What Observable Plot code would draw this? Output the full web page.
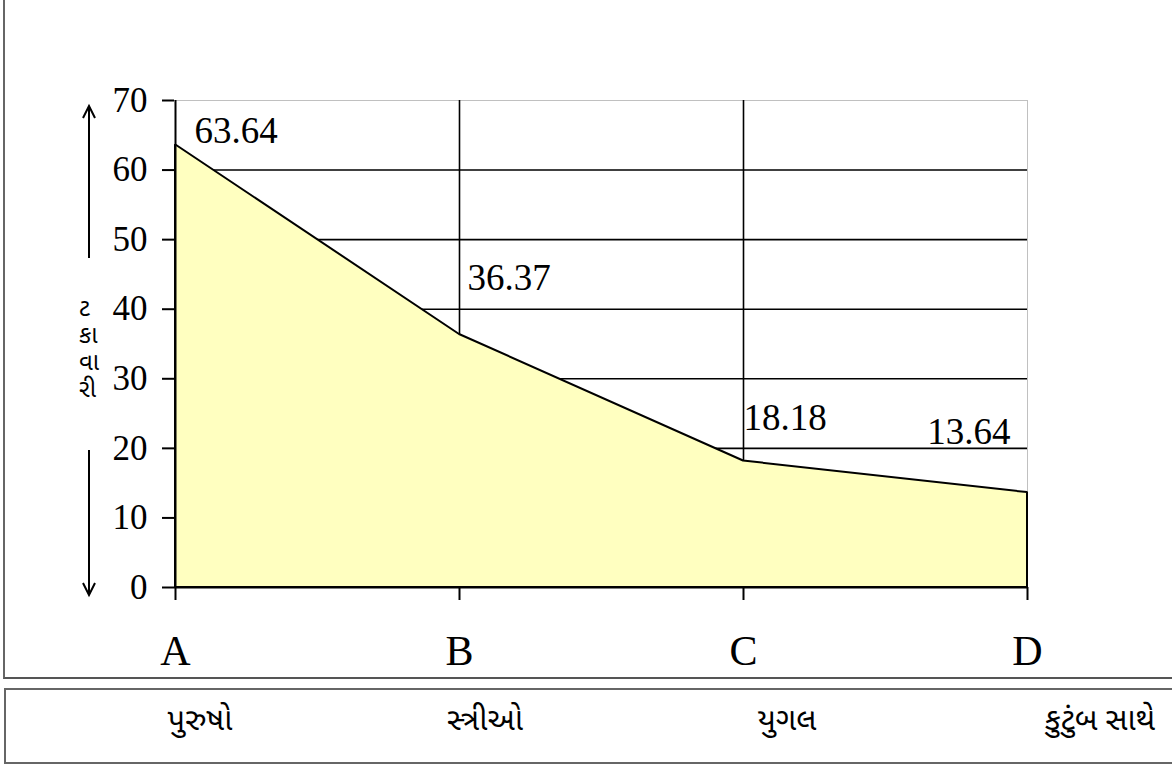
<!DOCTYPE html>
<html>
<head>
<meta charset="utf-8">
<script src="https://cdn.jsdelivr.net/npm/d3@7"></script>
<script src="https://cdn.jsdelivr.net/npm/@observablehq/plot@0.6"></script>
<style>
  html, body { margin: 0; padding: 0; background: #fff; }
  body { width: 1172px; height: 765px; position: relative; overflow: hidden; font-family: "Liberation Serif", serif; }
  #frame { position: absolute; left: 3px; top: -2px; width: 1180px; height: 679px; border-left: 2px solid #666; border-bottom: 2px solid #555; }
  #chart { position: absolute; left: 0; top: 0; }
  #chart svg text { font-family: "Liberation Serif", "Times New Roman", serif !important; font-variant: normal !important; }
  #ytitle { position: absolute; left: 79px; top: 297px; font-family: "Noto Sans Gujarati", "Lohit Gujarati", sans-serif; font-size: 24px; line-height: 27px; color: #000; white-space: pre; text-align: left; }
  #catbox { position: absolute; left: 4px; top: 688px; width: 1180px; height: 72px; border: 2px solid #666; }
  .cat { position: absolute; transform: translate(-50%, -50%); font-family: "Noto Sans Gujarati", "Lohit Gujarati", sans-serif; font-size: 31px; color: #000; white-space: nowrap; }
</style>
</head>
<body>
<div id="frame"></div>
<div id="chart"></div>
<div id="catbox"></div>
<script>
// ---- data ----
const categories = ["A", "B", "C", "D"];
const values = [63.64, 36.37, 18.18, 13.64];
const valueLabels = ["63.64", "36.37", "18.18", "13.64"];
const categoryNames = ["પુરુષો", "સ્ત્રીઓ", "યુગલ", "કુટુંબ સાથે"];
const yTicks = [0, 10, 20, 30, 40, 50, 60, 70];
const yAxisLetters = ["ટ", "કા", "વા", "રી"];

// ---- style / layout ----
const labelOffsets = [ {dx: 19, dy: -14, anchor: "start"}, {dx: 8, dy: -56, anchor: "start"}, {dx: 0, dy: -43, anchor: "start"}, {dx: -17, dy: -60, anchor: "end"} ];
const catCenters = [200, 485, 787, 1100];

const data = categories.map((c, i) => ({cat: c, value: values[i], label: valueLabels[i]}));

const plot = Plot.plot({
  width: 1172,
  height: 680,
  marginLeft: 174,
  marginRight: 145,
  marginTop: 100,
  marginBottom: 93,
  style: {fontFamily: "Liberation Serif, serif", background: "transparent", color: "#000"},
  x: {type: "point", domain: categories, padding: 0},
  y: {domain: [0, 70]},
  marks: [
    Plot.ruleY(yTicks.filter(d => d > 0 && d < 70), {stroke: "#000", strokeWidth: 1.6}),
    Plot.ruleY([70], {stroke: "#c0c0c0", strokeWidth: 1}),
    Plot.ruleX(["D"], {stroke: "#c0c0c0", strokeWidth: 1}),
    Plot.ruleX(["B", "C"], {stroke: "#000", strokeWidth: 1.6}),
    Plot.areaY(data, {x: "cat", y: "value", fill: "#ffffc0", stroke: "#000", strokeWidth: 2, strokeLinejoin: "miter"}),
    Plot.ruleX(["A"], {stroke: "#000", strokeWidth: 2}),
    Plot.ruleY([0], {stroke: "#000", strokeWidth: 2}),
    Plot.axisY({ticks: yTicks, tickSize: 12, tickPadding: 15, fontSize: 35, label: null, tickFormat: d => String(d), strokeWidth: 2}),
    Plot.axisX({tickSize: 13, tickPadding: 35, fontSize: 42, label: null, strokeWidth: 2}),
    ...data.map((d, i) => Plot.text([d], {x: "cat", y: "value", text: "label", fontSize: 37, dx: labelOffsets[i].dx, dy: labelOffsets[i].dy, textAnchor: labelOffsets[i].anchor, fill: "#000"}))
  ]
});
document.getElementById("chart").appendChild(plot);

// y-axis title arrows (above and below the stacked title)
const svg = d3.select(plot);
const g = svg.append("g").attr("stroke", "#000").attr("fill", "none").attr("stroke-width", 2);
const ax = 89;
g.append("line").attr("x1", ax).attr("x2", ax).attr("y1", 258).attr("y2", 107);
g.append("polyline").attr("points", `${ax-6},${118} ${ax},${106} ${ax+6},${118}`);
g.append("line").attr("x1", ax).attr("x2", ax).attr("y1", 450).attr("y2", 594);
g.append("polyline").attr("points", `${ax-6},${583} ${ax},${595} ${ax+6},${583}`);

const yt = document.createElement("div");
yt.id = "ytitle";
yt.textContent = yAxisLetters.join("\n");
document.body.appendChild(yt);

// category names row
categoryNames.forEach((n, i) => {
  const el = document.createElement("div");
  el.className = "cat";
  el.style.left = catCenters[i] + "px";
  el.style.top = "722px";
  el.textContent = n;
  document.body.appendChild(el);
});
</script>
</body>
</html>
